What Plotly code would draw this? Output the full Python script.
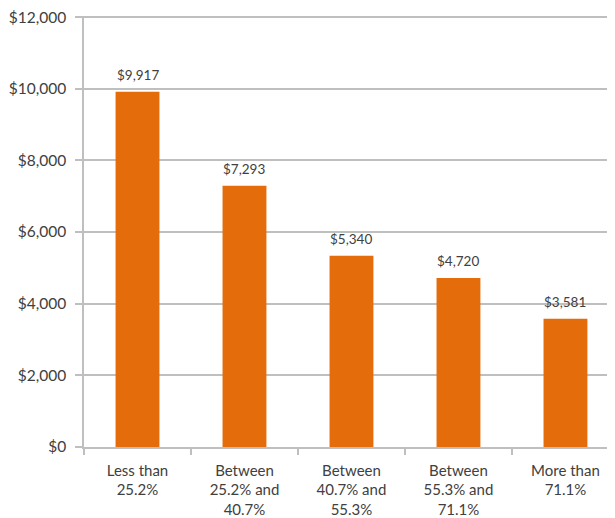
import plotly.graph_objects as go

categories = ["Less than<br>25.2%", "Between<br>25.2% and<br>40.7%", "Between<br>40.7% and<br>55.3%",
              "Between<br>55.3% and<br>71.1%", "More than<br>71.1%"]
values = [9917, 7293, 5340, 4720, 3581]
y_ticks = [0, 2000, 4000, 6000, 8000, 10000, 12000]
y_tick_labels = ["$0", "$2,000", "$4,000", "$6,000", "$8,000", "$10,000", "$12,000"]

FONT = "Lato, 'Open Sans', sans-serif"
TXT = "#404040"
GRID = "#BFBFBF"

fig = go.Figure(go.Bar(
    x=categories,
    y=values,
    width=0.41,
    marker=dict(color="#E46C0A", line=dict(width=0)),
    hoverinfo="skip",
))

for c, v in zip(categories, values):
    fig.add_annotation(x=c, y=v, text=f"${v:,}", showarrow=False,
                       xref="x", yref="y", yanchor="bottom", yshift=7,
                       font=dict(family=FONT, size=13.5, color=TXT))

fig.update_layout(
    width=607, height=510,
    margin=dict(l=76, r=0, t=8, b=71),
    paper_bgcolor="white", plot_bgcolor="white",
    showlegend=False,
    font=dict(family=FONT, size=16, color=TXT),
    xaxis=dict(
        type="category",
        range=[-0.5, 4.463],
        showgrid=False,
        showline=True, linecolor=GRID, linewidth=1.5,
        ticks="outside", tickson="boundaries", ticklen=6, tickcolor=GRID, tickwidth=1.5,
        tickfont=dict(family=FONT, size=15, color=TXT),
        ticklabelstandoff=9,
        ticklabeloverflow="allow",
        automargin=False,
        zeroline=False,
    ),
    yaxis=dict(
        range=[0, 12030],
        tickmode="array",
        tickvals=y_ticks,
        ticktext=y_tick_labels,
        showgrid=True, gridcolor=GRID, gridwidth=1.5,
        showline=True, linecolor=GRID, linewidth=1.5,
        ticks="outside", ticklen=7, tickcolor=GRID, tickwidth=1.5,
        tickfont=dict(family=FONT, size=15.5, color=TXT),
        ticklabelstandoff=6,
        ticklabeloverflow="allow",
        automargin=False,
        zeroline=False,
    ),
)

fig.write_html("out.html")
